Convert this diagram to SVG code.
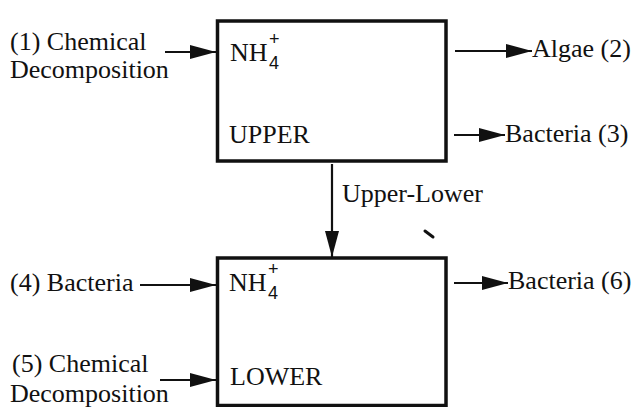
<svg xmlns="http://www.w3.org/2000/svg" width="633" height="407" viewBox="0 0 633 407">
<defs>
<style>
.t{font-family:"Liberation Serif","Times New Roman",serif;font-size:26px;fill:#111}
.s{font-family:"Liberation Sans",Arial,sans-serif;font-size:18px;fill:#111}
.box{fill:#fff;stroke:#111;stroke-width:3.5}
.c{stroke:#111;stroke-width:2.2;fill:none}
</style>
<marker id="ah" viewBox="0 0 26 14" refX="26" refY="7" markerWidth="26" markerHeight="14" markerUnits="userSpaceOnUse" orient="auto">
<path d="M0,0 L26,7 L0,14 Z" fill="#111"/>
</marker>
</defs>
<rect width="633" height="407" fill="#fff"/>
<g id="upper">
<rect class="box" x="217.5" y="21" width="228.5" height="140"/>
<text class="t" x="230" y="61">NH</text>
<text class="s" x="269" y="69">4</text>
<text class="s" x="269" y="45">+</text>
<text class="t" x="229" y="143">UPPER</text>
</g>
<g id="lower">
<rect class="box" x="217.5" y="258" width="228.5" height="147.5"/>
<text class="t" x="229" y="291">NH</text>
<text class="s" x="268" y="299">4</text>
<text class="s" x="268" y="275">+</text>
<text class="t" x="230" y="385">LOWER</text>
</g>
<g id="src1"><text class="t" x="10" y="50">(1) Chemical</text><text class="t" x="10" y="78">Decomposition</text></g>
<g id="sink2"><text class="t" x="532" y="57">Algae (2)</text></g>
<g id="sink3"><text class="t" x="505" y="142">Bacteria (3)</text></g>
<g id="src4"><text class="t" x="10" y="291">(4) Bacteria</text></g>
<g id="src5"><text class="t" x="12" y="372">(5) Chemical</text><text class="t" x="10" y="402">Decomposition</text></g>
<g id="sink6"><text class="t" x="508" y="289">Bacteria (6)</text></g>
<g id="connectors">
<line class="c" x1="165" y1="52" x2="216" y2="52" marker-end="url(#ah)"/>
<line class="c" x1="455" y1="51" x2="532" y2="51" marker-end="url(#ah)"/>
<line class="c" x1="454" y1="135" x2="505" y2="135" marker-end="url(#ah)"/>
<line class="c" x1="332" y1="164" x2="332" y2="257" marker-end="url(#ah)"/>
<text class="t" x="342" y="202">Upper-Lower</text>
<line class="c" x1="140" y1="285" x2="216" y2="285" marker-end="url(#ah)"/>
<line class="c" x1="160" y1="380" x2="216" y2="380" marker-end="url(#ah)"/>
<line class="c" x1="454" y1="283" x2="508" y2="283" marker-end="url(#ah)"/>
</g>
<line x1="425" y1="231" x2="433" y2="237" stroke="#111" stroke-width="3" stroke-linecap="round"/>
</svg>
